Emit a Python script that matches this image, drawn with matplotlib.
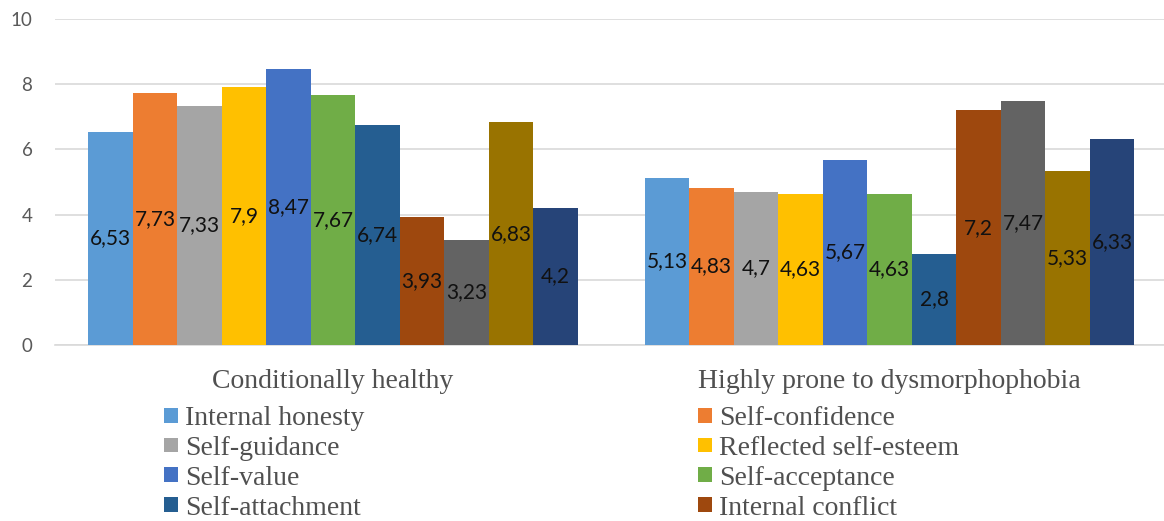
import matplotlib
matplotlib.use("Agg")
import matplotlib.pyplot as plt
from matplotlib.patches import Patch
import numpy as np

categories = ["Conditionally healthy", "Highly prone to dysmorphophobia"]
series_names = ["Internal honesty", "Self-confidence", "Self-guidance",
                "Reflected self-esteem", "Self-value", "Self-acceptance",
                "Self-attachment", "Internal conflict", "Self-blame",
                "Self-interest", "Self-understanding"]
healthy = [6.53, 7.73, 7.33, 7.9, 8.47, 7.67, 6.74, 3.93, 3.23, 6.83, 4.2]
prone = [5.13, 4.83, 4.7, 4.63, 5.67, 4.63, 2.8, 7.2, 7.47, 5.33, 6.33]
colors = ["#5B9BD5", "#ED7D31", "#A5A5A5", "#FFC000", "#4472C4", "#70AD47",
          "#255E91", "#9E480E", "#636363", "#997300", "#264478"]
yticks = [0, 2, 4, 6, 8, 10]

W, H = 1164, 521
fig = plt.figure(figsize=(W / 100, H / 100), dpi=100)
ax_left, ax_right = 54.6, 1168.0
ax_bottom_px, ax_top_px = 345.0, 19.0
ax = fig.add_axes([ax_left / W, (H - ax_bottom_px) / H,
                   (ax_right - ax_left) / W, (ax_bottom_px - ax_top_px) / H])

n = len(series_names)
group_frac = 0.879
bw = group_frac / n
x = np.arange(len(categories))
for i in range(n):
    vals = [healthy[i], prone[i]]
    pos = x - group_frac / 2 + bw * (i + 0.5)
    bars = ax.bar(pos, vals, width=bw, color=colors[i], edgecolor="none", zorder=3)
    for b, v in zip(bars, vals):
        lab = ("%g" % v).replace(".", ",")
        ax.text(b.get_x() + b.get_width() / 2, v / 2, lab, ha="center", va="center",
                fontsize=15, family="Lato", color="#111111", zorder=4)

ax.set_xlim(-0.5, 1.5)
ax.set_ylim(0, 10)
ax.set_yticks(yticks)
ax.set_yticklabels([str(t) for t in yticks], family="Lato", fontsize=13.5, color="#595959")
ax.grid(axis="y", color="#d9d9d9", linewidth=1.2, zorder=0)
ax.set_axisbelow(True)
for s in ["top", "right", "left"]:
    ax.spines[s].set_visible(False)
ax.spines["bottom"].set_color("#d9d9d9")
ax.spines["bottom"].set_linewidth(1.2)
ax.tick_params(axis="y", length=0, pad=16)
ax.tick_params(axis="x", length=0, pad=17)
ax.set_xticks(x)
ax.set_xticklabels(categories, family="Liberation Serif", fontsize=20, color="#505050")

handles = [Patch(facecolor=colors[i], edgecolor="none") for i in range(8)]
leg_kw = dict(frameon=False, prop={"family": "Liberation Serif", "size": 20},
              handlelength=0.5, handleheight=0.45, handletextpad=0.25,
              labelspacing=0.175, borderpad=0, borderaxespad=0, loc="upper left",
              labelcolor="#505050")
leg1 = fig.legend([handles[i] for i in (0, 2, 4, 6)],
                  [series_names[i] for i in (0, 2, 4, 6)],
                  bbox_to_anchor=(164 / W, 1 - 406 / H), **leg_kw)
leg2 = fig.legend([handles[i] for i in (1, 3, 5, 7)],
                  [series_names[i] for i in (1, 3, 5, 7)],
                  bbox_to_anchor=(698 / W, 1 - 406 / H), **leg_kw)

fig.savefig("out.png", dpi=100)
